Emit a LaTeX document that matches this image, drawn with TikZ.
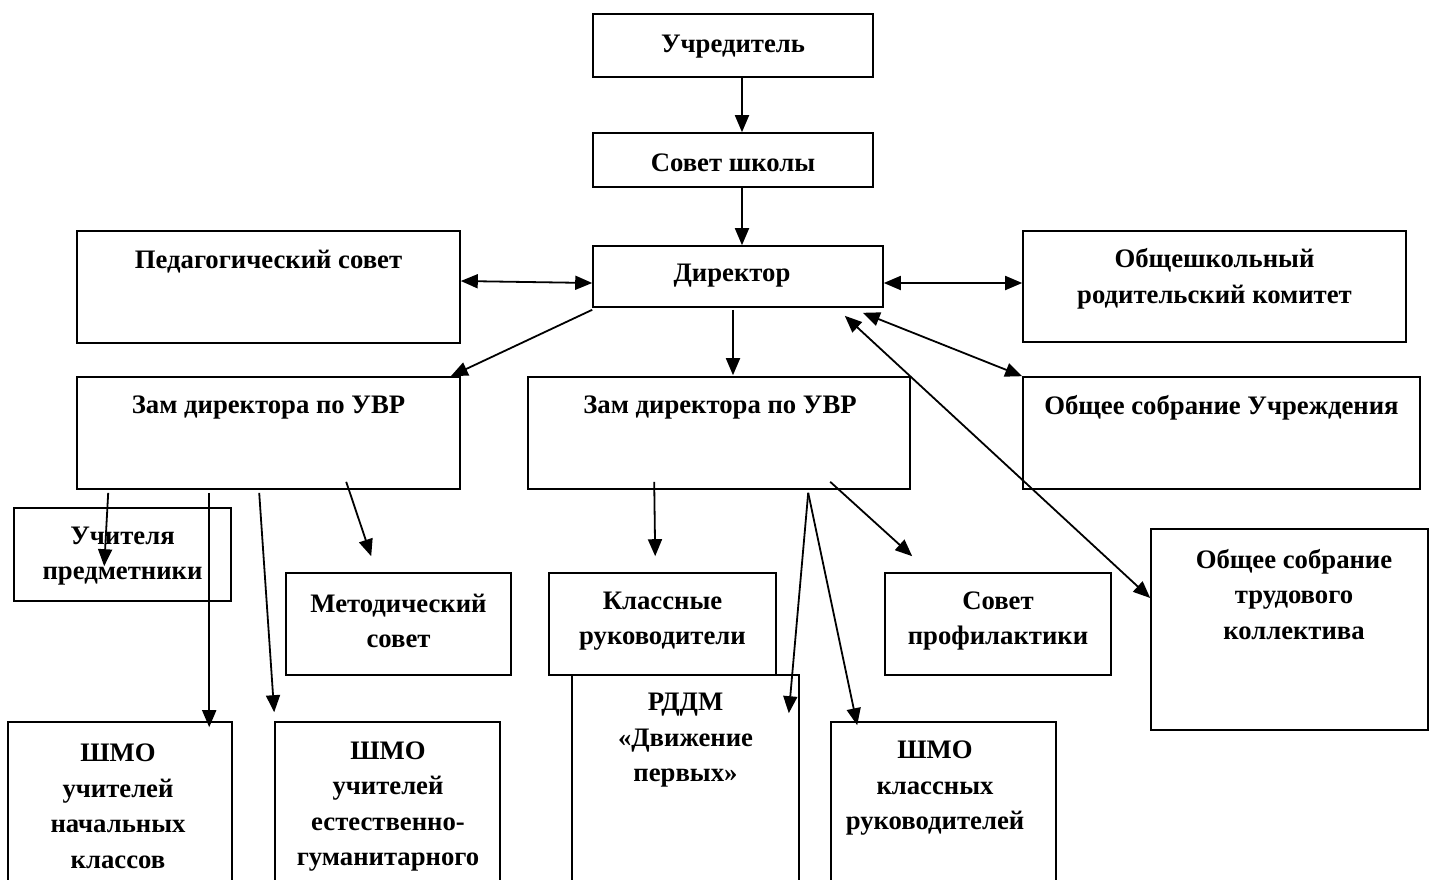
\documentclass[tikz,border=0pt]{standalone}
\usepackage{fontspec}
\setmainfont{Liberation Serif}
\usetikzlibrary{arrows.meta,calc}
\begin{document}
\begin{tikzpicture}[x=1pt,y=-1pt,
  box/.style={draw, line width=1.6pt, inner sep=0pt, rectangle},
  lbl/.style={font=\fontsize{26.7}{35.5}\selectfont\bfseries, align=center, inner sep=0pt, yshift=-2.5pt},
  arr/.style={line width=1.8pt, -{Triangle[length=17pt,width=14pt]}},
  darr/.style={line width=1.8pt, {Triangle[length=17pt,width=14pt]}-{Triangle[length=17pt,width=14pt]}}]
\clip (0,0) rectangle (1430,879);
\fill[white] (0,0) rectangle (1430,879);
% boxes
\node[box, minimum width=280, minimum height=63] (u) at (733,45.5) {};
\node[box, minimum width=280, minimum height=54] (s) at (733,160) {};
\node[box, minimum width=290, minimum height=61] (d) at (738,276.5) {};
\node[box, minimum width=383, minimum height=112] (ped) at (268.5,287) {};
\node[box, minimum width=383, minimum height=111] (ob) at (1214.5,286.5) {};
\node[box, minimum width=383, minimum height=112] (zl) at (268.5,433) {};
\node[box, minimum width=382, minimum height=112] (zm) at (719,433) {};
\node[box, minimum width=397, minimum height=112] (ou) at (1221.5,433) {};
\node[box, minimum width=217, minimum height=93] (up) at (122.5,554.5) {};
\node[box, minimum width=225, minimum height=102] (ms) at (398.5,624) {};
\node[box, minimum width=227, minimum height=102] (kr) at (662.5,624) {};
\node[box, minimum width=226, minimum height=102] (sp) at (998,624) {};
\node[box, minimum width=277, minimum height=201] (ot) at (1289.5,629.5) {};
\node[box, minimum width=227, minimum height=225] (rd) at (685.5,787.5) {};
\node[box, minimum width=225, minimum height=178] (shk) at (943.5,811) {};
\node[box, minimum width=224, minimum height=178] (shn) at (120,811) {};
\node[box, minimum width=225, minimum height=178] (she) at (387.5,811) {};
% labels
\node[lbl] (tu) at (733,44) {Учредитель};
\node[lbl] (ts) at (733,160) {Совет школы};
\node[lbl] (td) at (732,273) {Директор};
\node[lbl] (tped) at (268.5,259) {Педагогический совет};
\node[lbl] (tob) at (1214.5,276.5) {Общешкольный\\родительский комитет};
\node[lbl] (tzl) at (268.5,405) {Зам директора по УВР};
\node[lbl] (tzm) at (720,405) {Зам директора по УВР};
\node[lbl] (tou) at (1221.5,405) {Общее собрание Учреждения};
\node[lbl] (tup) at (122.5,553.5) {Учителя\\предметники};
\node[lbl] (tms) at (398.5,618.5) {Методический\\совет};
\node[lbl] (tkr) at (662.5,618.5) {Классные\\руководители};
\node[lbl] (tsp) at (998,618.5) {Совет\\профилактики};
\node[lbl] (tot) at (1294,592) {Общее собрание\\трудового\\коллектива};
\node[lbl] (trd) at (685.5,738) {РДДМ\\«Движение\\первых»};
\node[lbl] (tshk) at (935,786) {ШМО\\классных\\руководителей};
\node[lbl] (tshn) at (118,804) {ШМО\\учителей\\начальных\\классов};
\node[lbl] (tshe) at (388,804) {ШМО\\учителей\\естественно-\\гуманитарного};
% connectors
\draw[arr] ($(u.south)+(9,0)$) -- ($(s.north)+(9,0)$);
\draw[arr] ($(s.south)+(9,0)$) -- ($(d.north)+(4,0)$);
\draw[darr] ($(ped.east)+(0,-6)$) -- ($(d.west)+(0,6.5)$);
\draw[darr] ($(d.east)+(0,6.5)$) -- ($(ob.west)+(0,-3.5)$);
\draw[arr] ($(d.south west)+(0,2)$) -- ($(zl.north east)+(-10,0)$);
\draw[arr] ($(d.south)+(-5,2)$) -- ($(zm.north)+(14,-1)$);
\draw[darr] ($(d.south east)+(-21,5)$) -- (ou.north west);
\draw[darr] ($(d.south east)+(-39,8)$) -- ($(ot.west)+(0,-31.5)$);
\coordinate (za) at ($(zl.south west)+(32,3)$);
\coordinate (zb) at ($(zl.south west)+(133,3)$);
\coordinate (zc) at ($(zl.south west)+(183,3)$);
\coordinate (zd) at ($(zl.south west)+(270,-8)$);
\draw[arr] (za) -- ($(up.north west)+(91,59)$);
\draw[arr] (zb) -- ($(shn.north west)+(202,6)$);
\draw[arr] (zc) -- ($(she.north west)+(0,-9)$);
\draw[arr] (zd) -- ($(ms.north west)+(86,-16)$);
\coordinate (ze) at ($(zm.south west)+(127,-8)$);
\coordinate (zf) at ($(zm.south west)+(281,3)$);
\coordinate (zh) at ($(zm.south west)+(303,-8)$);
\draw[arr] (ze) -- ($(kr.north west)+(107,-16)$);
\draw[arr] (zf) -- ($(rd.north east)+(-11,39)$);
\draw[arr] (zf) -- ($(shk.north west)+(27,4)$);
\draw[arr] (zh) -- ($(sp.north west)+(28,-16)$);
\end{tikzpicture}
\end{document}
